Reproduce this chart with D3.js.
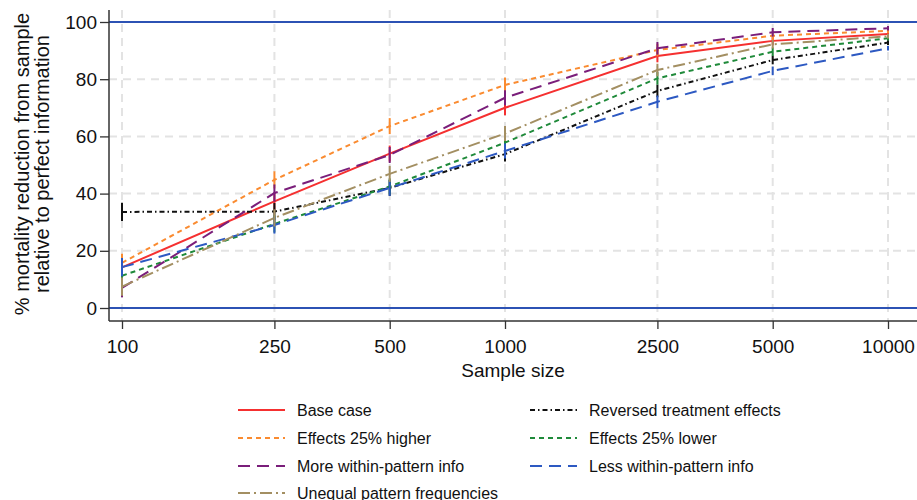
<!DOCTYPE html>
<html>
<head>
<meta charset="utf-8">
<script src="https://cdn.jsdelivr.net/npm/d3@7"></script>
<style>
  body { margin: 0; background: #fff; }
  text { font-family: "Liberation Sans", Arial, sans-serif; fill: #111; }
</style>
</head>
<body>
<svg width="917" height="500"></svg>
<script>
const sizes = [100, 250, 500, 1000, 2500, 5000, 10000];
const yTicks = [0, 20, 40, 60, 80, 100];

const baseCase = [14.2, 37.3, 54, 70, 88.1, 93.4, 95.8];
const reversed = [33.6, 33.7, 42, 53.8, 75.9, 86.7, 92.8];
const higher = [15.8, 44.8, 63.6, 78, 90.2, 95.2, 96.9];
const lower = [11.3, 29.4, 42.5, 57.8, 80.3, 89.6, 94.3];
const moreInfo = [7, 40.2, 53.5, 73.5, 90.8, 96.4, 97.8];
const lessInfo = [14.3, 29, 42, 54.9, 72.1, 82.9, 90.8];
const unequal = [7.5, 31.5, 46.9, 61, 83.2, 92.2, 95];

// half-width of the interval drawn at each sample size
const ciHalf = [3.2, 3, 2.8, 2.6, 2.2, 1.5, 0.8];

const series = [
  { name: "Base case", values: baseCase, color: "#f53030", dash: null },
  { name: "Reversed treatment effects", values: reversed, color: "#111111", dash: "5,3,1.5,3" },
  { name: "Effects 25% higher", values: higher, color: "#fa8b30", dash: "5,4" },
  { name: "Effects 25% lower", values: lower, color: "#1f8a3a", dash: "5,4" },
  { name: "More within-pattern info", values: moreInfo, color: "#7a1e7a", dash: "12,7" },
  { name: "Less within-pattern info", values: lessInfo, color: "#2d59c2", dash: "12,7" },
  { name: "Unequal pattern frequencies", values: unequal, color: "#a38f62", dash: "12,4,2,4" }
];

const svg = d3.select("svg");
const plotL = 109, plotR = 917, plotT = 10, plotB = 321;

const x = d3.scaleLog().domain([100, 10000]).range([122, 888]);
const y = d3.scaleLinear().domain([0, 100]).range([308, 22]);

// grid
const grid = svg.append("g").attr("stroke", "#e3e3e3").attr("stroke-width", 2).attr("stroke-dasharray", "8,6");
grid.selectAll("line.h").data(yTicks.filter(d => d > 0 && d < 100)).enter().append("line")
  .attr("x1", plotL).attr("x2", plotR).attr("y1", d => y(d)).attr("y2", d => y(d));
grid.selectAll("line.v").data(sizes).enter().append("line")
  .attr("x1", d => x(d)).attr("x2", d => x(d)).attr("y1", plotT).attr("y2", plotB);

// reference lines at 0 and 100
svg.append("g").selectAll("line").data([0, 100]).enter().append("line")
  .attr("x1", plotL).attr("x2", plotR).attr("y1", d => y(d)).attr("y2", d => y(d))
  .attr("stroke", "#2c52b4").attr("stroke-width", 2);

// axes
const yAxis = svg.append("g").attr("transform", `translate(${plotL},0)`)
  .call(d3.axisLeft(y).tickValues(yTicks).tickSize(9).tickPadding(3).tickSizeOuter(0));
const xAxis = svg.append("g").attr("transform", `translate(0,${plotB})`)
  .call(d3.axisBottom(x).tickValues(sizes).tickFormat(d3.format("d")).tickSize(8).tickPadding(11).tickSizeOuter(0));
[yAxis, xAxis].forEach(a => {
  a.select(".domain").remove();
  a.selectAll(".tick line").attr("stroke", "#333").attr("stroke-width", 1.3);
  a.selectAll(".tick text").style("font-size", "19px").attr("fill", "#111");
});
svg.append("line").attr("x1", plotL).attr("x2", plotL).attr("y1", plotT).attr("y2", plotB)
  .attr("stroke", "#333").attr("stroke-width", 1.5);
svg.append("line").attr("x1", plotL).attr("x2", plotR).attr("y1", plotB).attr("y2", plotB)
  .attr("stroke", "#333").attr("stroke-width", 1.5);

// series
const line = d3.line().x((d, i) => x(sizes[i])).y(d => y(d));
const sg = svg.append("g").selectAll("g").data(series).enter().append("g");
sg.append("path")
  .attr("d", d => line(d.values))
  .attr("fill", "none")
  .attr("stroke", d => d.color)
  .attr("stroke-width", 2)
  .attr("stroke-dasharray", d => d.dash);
sg.selectAll("line").data(d => d.values.map((v, i) => ({ v, i, color: d.color }))).enter().append("line")
  .attr("x1", d => x(sizes[d.i])).attr("x2", d => x(sizes[d.i]))
  .attr("y1", d => y(d.v - ciHalf[d.i])).attr("y2", d => y(d.v + ciHalf[d.i]))
  .attr("stroke", d => d.color).attr("stroke-width", 2);

// axis titles
svg.append("text").attr("x", 513).attr("y", 377).attr("text-anchor", "middle")
  .style("font-size", "19px").text("Sample size");
const yt = svg.append("text").attr("transform", "translate(0,164) rotate(-90)")
  .attr("text-anchor", "middle").style("font-size", "20px");
yt.append("tspan").attr("x", 0).attr("y", 29).text("% mortality reduction from sample");
yt.append("tspan").attr("x", 0).attr("y", 49).text("relative to perfect information");

// legend (two columns, row-major)
const rowY = [410, 438, 466, 493];
const colX = [238, 530];
const lg = svg.append("g").selectAll("g").data(series).enter().append("g")
  .attr("transform", (d, i) => `translate(${colX[i % 2]},${rowY[Math.floor(i / 2)]})`);
lg.append("line").attr("x1", 0).attr("x2", 47).attr("y1", 0).attr("y2", 0)
  .attr("stroke", d => d.color).attr("stroke-width", 2).attr("stroke-dasharray", d => d.dash);
lg.append("text").attr("x", 59).attr("y", 5.5).style("font-size", "16px").text(d => d.name);
</script>
</body>
</html>
